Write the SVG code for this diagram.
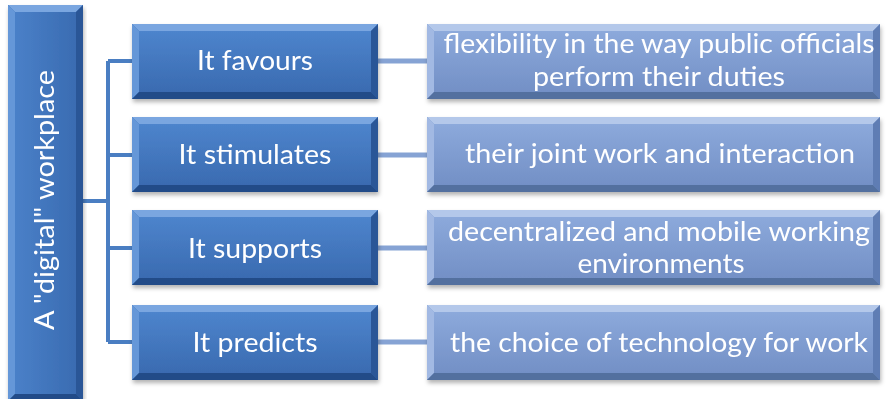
<svg xmlns="http://www.w3.org/2000/svg" xmlns:xlink="http://www.w3.org/1999/xlink" width="886" height="399" viewBox="0 0 886 399">
<defs>
<style>
text{font-family:Lato,"Liberation Sans","DejaVu Sans",sans-serif;fill:#ffffff;font-size:27px;text-anchor:middle}
.trunk{stroke:#4a7ec2;stroke-width:4;fill:none}
.link{stroke:#86a3d4;stroke-width:5;fill:none}
.mBase{fill:#3d6fb5}.mTop{fill:#7aa6e0}.mLeft{fill:#6597d8}.mRight{fill:#2b5797}.mBot{fill:#234c88}
.rBase{fill:#7a98cc}.rTop{fill:#b4c8ea}.rLeft{fill:#a2b9e3}.rRight{fill:#5f7db4}.rBot{fill:#52709f}
</style>
<linearGradient id="gm" x1="0" y1="0" x2="0" y2="1"><stop offset="0" stop-color="#4d84cc"/><stop offset="1" stop-color="#3a6bb1"/></linearGradient>
<linearGradient id="gr" x1="0" y1="0" x2="0" y2="1"><stop offset="0" stop-color="#8ca9db"/><stop offset="1" stop-color="#7390c6"/></linearGradient>
<linearGradient id="gl" x1="0" y1="0" x2="1" y2="0"><stop offset="0" stop-color="#4a80c8"/><stop offset="1" stop-color="#3a6cb2"/></linearGradient>
<filter id="sh" x="-5%" y="-10%" width="110%" height="130%"><feDropShadow dx="1" dy="3" stdDeviation="2" flood-color="#000" flood-opacity="0.3"/></filter>
<g id="mid">
<rect class="mBase" width="246" height="75"/>
<polygon class="mTop" points="0,0 246,0 239,7 7,7"/>
<polygon class="mLeft" points="0,0 7,7 7,68 0,75"/>
<polygon class="mRight" points="246,0 246,75 239,68 239,7"/>
<polygon class="mBot" points="0,75 246,75 239,68 7,68"/>
<rect x="7" y="7" width="232" height="61" fill="url(#gm)"/>
</g>
<g id="right">
<rect class="rBase" width="453" height="75"/>
<polygon class="rTop" points="0,0 453,0 446,7 7,7"/>
<polygon class="rLeft" points="0,0 7,7 7,68 0,75"/>
<polygon class="rRight" points="453,0 453,75 446,68 446,7"/>
<polygon class="rBot" points="0,75 453,75 446,68 7,68"/>
<rect x="7" y="7" width="439" height="61" fill="url(#gr)"/>
</g>
</defs>
<rect width="886" height="399" fill="#ffffff"/>
<g id="connectors">
<path class="trunk" d="M83,201 H108 M108,61 V342 M108,61 H132 M108,155 H132 M108,248 H132 M108,342 H132"/>
<path class="link" d="M378,61 H427 M378,155 H427 M378,248 H427 M378,342 H427"/>
</g>
<g id="root" filter="url(#sh)">
<rect class="mBase" x="8" y="5" width="75" height="396"/>
<polygon class="mTop" points="8,5 83,5 76,12 15,12"/>
<polygon class="mLeft" points="8,5 15,12 15,394 8,401"/>
<polygon class="mRight" points="83,5 83,401 76,394 76,12"/>
<polygon class="mBot" points="8,401 83,401 76,394 15,394"/>
<rect x="15" y="12" width="61" height="382" fill="url(#gl)"/>
<text transform="translate(54,200) rotate(-90)" font-size="26" textLength="260" lengthAdjust="spacingAndGlyphs">A "digital" workplace</text>
</g>
<g id="m1" filter="url(#sh)"><use xlink:href="#mid" x="132" y="24"/><text x="255" y="70" textLength="116" lengthAdjust="spacingAndGlyphs">It favours</text></g>
<g id="m2" filter="url(#sh)"><use xlink:href="#mid" x="132" y="117"/><text x="255" y="164" textLength="153" lengthAdjust="spacingAndGlyphs">It stimulates</text></g>
<g id="m3" filter="url(#sh)"><use xlink:href="#mid" x="132" y="210"/><text x="255" y="258" textLength="134" lengthAdjust="spacingAndGlyphs">It supports</text></g>
<g id="m4" filter="url(#sh)"><use xlink:href="#mid" x="132" y="305"/><text x="255" y="352" textLength="125" lengthAdjust="spacingAndGlyphs">It predicts</text></g>
<g id="r1" filter="url(#sh)"><use xlink:href="#right" x="427" y="24"/><text x="659" y="53" textLength="431" lengthAdjust="spacingAndGlyphs">flexibility in the way public officials</text><text x="659" y="86" textLength="252" lengthAdjust="spacingAndGlyphs">perform their duties</text></g>
<g id="r2" filter="url(#sh)"><use xlink:href="#right" x="427" y="117"/><text x="660" y="163" textLength="390" lengthAdjust="spacingAndGlyphs">their joint work and interaction</text></g>
<g id="r3" filter="url(#sh)"><use xlink:href="#right" x="427" y="210"/><text x="659" y="241" textLength="422" lengthAdjust="spacingAndGlyphs">decentralized and mobile working</text><text x="661" y="273" textLength="167" lengthAdjust="spacingAndGlyphs">environments</text></g>
<g id="r4" filter="url(#sh)"><use xlink:href="#right" x="427" y="305"/><text x="659" y="352" textLength="418" lengthAdjust="spacingAndGlyphs">the choice of technology for work</text></g>
</svg>
